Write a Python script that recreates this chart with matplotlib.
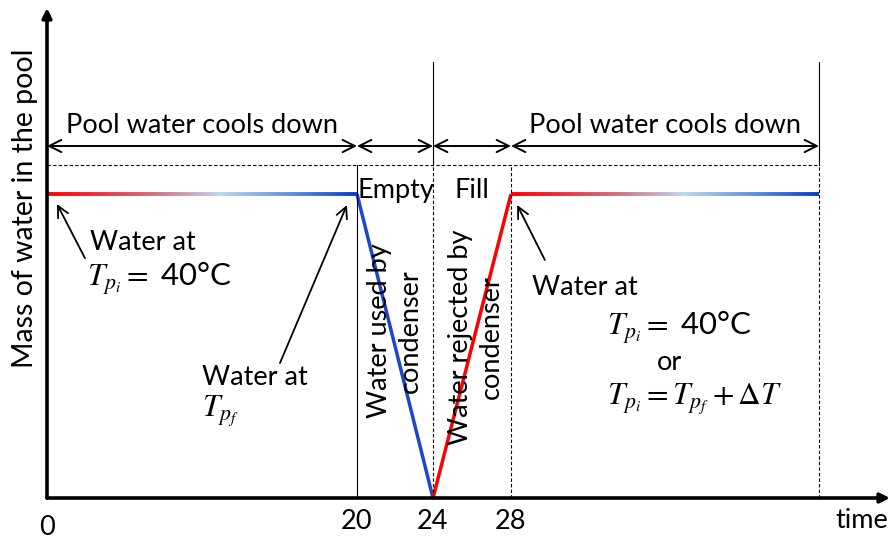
import numpy as np
import matplotlib.pyplot as plt
from matplotlib.collections import LineCollection
from matplotlib.colors import LinearSegmentedColormap
from matplotlib.transforms import ScaledTranslation

plt.rcParams["font.family"] = ["Lato", "DejaVu Sans"]
plt.rcParams["mathtext.fontset"] = "stix"

# schematic time axis (not to scale): time value -> position along axis
axis_times = [0, 20, 24, 28, 48, 54]
axis_pos = [0, 310, 386, 464, 772, 843]

# pool water mass profile
time_pts = [0, 20, 24, 28, 48]
mass_pts = [1.0, 1.0, 0.0, 1.0, 1.0]
tick_times = [0, 20, 24, 28]
tick_labels = ["0", "20", "24", "28"]

# phase boundaries
phase_edges = [0, 20, 24, 28, 48]
phase_names = ["Pool water cools down", "", "", "Pool water cools down"]

FS = 19.5
MFS = 22.5
BLUE = "#1f45c8"
RED = "#ff0000"
cool_cmap = LinearSegmentedColormap.from_list(
    "cool", [(0, "#ff0000"), (0.12, "#f2202e"), (0.35, "#d27284"),
             (0.56, "#bcd6ee"), (0.8, "#5a8ed8"), (1, "#0a3ccc")])


def fwd(t):
    return np.interp(t, axis_times, axis_pos)


def inv(p):
    return np.interp(p, axis_pos, axis_times)


fig = plt.figure(figsize=(8.91, 5.4), dpi=100)
ax = fig.add_axes([47 / 891, 42 / 540, 843 / 891, 490 / 540])
ax.set_xscale("function", functions=(fwd, inv))
ax.set_xlim(0, 54)
ax.set_ylim(0, 1.612)
for s in ax.spines.values():
    s.set_visible(False)

# axes with arrow heads
ax.annotate("", xy=(0, 1), xytext=(0, 0), xycoords="axes fraction",
            arrowprops=dict(arrowstyle="-|>", lw=2.6, color="k",
                            mutation_scale=14, shrinkA=0, shrinkB=0))
ax.annotate("", xy=(1, 0), xytext=(0, 0), xycoords="axes fraction",
            arrowprops=dict(arrowstyle="-|>", lw=2.6, color="k",
                            mutation_scale=14, shrinkA=0, shrinkB=0))

ax.set_xticks(tick_times)
ax.set_xticklabels(tick_labels, fontsize=FS)
ax.set_yticks([])
ax.tick_params(axis="x", length=0, pad=8)
for lbl in ax.get_xticklabels():
    if lbl.get_text() == "0":
        lbl.set_transform(lbl.get_transform() +
                          ScaledTranslation(0, -0.06, fig.dpi_scale_trans))
ax.text(51.6, -0.075, "time", fontsize=FS, ha="center", va="center")
ax.set_ylabel("Mass of water in the pool", fontsize=20.5)
ax.yaxis.set_label_coords(-0.011, 0.592)

# gradient (cooling) plateaus
for i in [0, 3]:
    t0, t1 = time_pts[i], time_pts[i + 1]
    ts = np.linspace(t0, t1, 200)
    ms = np.interp(ts, [t0, t1], [mass_pts[i], mass_pts[i + 1]])
    pts = np.column_stack([ts, ms]).reshape(-1, 1, 2)
    segs = np.concatenate([pts[:-1], pts[1:]], axis=1)
    lc = LineCollection(segs, cmap=cool_cmap, linewidth=2.8,
                        capstyle="butt")
    lc.set_array(np.linspace(0, 1, len(segs)))
    ax.add_collection(lc)

# empty and fill lines
ax.plot(time_pts[1:3], mass_pts[1:3], color=BLUE, lw=2.5,
        solid_capstyle="butt")
ax.plot(time_pts[2:4], mass_pts[2:4], color=RED, lw=2.5,
        solid_capstyle="butt")

# guide lines
y_dash = 1.095
y_arrow = 1.158
y_top = 1.434
ax.plot([0, 48], [y_dash, y_dash], color="k", lw=0.8, ls=(0, (3, 2)))
ax.plot([20, 20], [0, y_dash], color="k", lw=0.8)
for t in [24, 28, 48]:
    ax.plot([t, t], [0, y_dash], color="k", lw=0.8, ls=(0, (3, 2)))
for t in [24, 48]:
    ax.plot([t, t], [y_dash, y_top], color="k", lw=0.8)

# phase double arrows
for a, b, name in zip(phase_edges[:-1], phase_edges[1:], phase_names):
    ax.annotate("", xy=(b, y_arrow), xytext=(a, y_arrow),
                arrowprops=dict(arrowstyle="<->", lw=1.4, color="k",
                                mutation_scale=22, shrinkA=0, shrinkB=0))
    if name:
        ax.text(inv((fwd(a) + fwd(b)) / 2), 1.225, name,
                fontsize=FS, ha="center", va="center")

ax.text(22.05, 1.013, "Empty", fontsize=FS, ha="center", va="center")
ax.text(26.0, 1.013, "Fill", fontsize=FS, ha="center", va="center")
ax.text(22.0, 0.55, "Water used by\ncondenser", fontsize=FS, rotation=90,
        ha="center", va="center", linespacing=1.3, multialignment="center")
ax.text(26.2, 0.53, "Water rejected by\ncondenser", fontsize=FS,
        rotation=90, ha="center", va="center", linespacing=1.3,
        multialignment="center")

# annotations
arrow_kw = dict(arrowstyle="->", lw=1.3, color="k", mutation_scale=20,
                shrinkA=0, shrinkB=0)
ax.annotate("", xy=(0.645, 0.967), xytext=(2.45, 0.789), arrowprops=arrow_kw)
ax.text(2.77, 0.839, "Water at", fontsize=FS, ha="left", va="center")
ax.text(2.6, 0.72, r"$T_{p_i} = $ 40°C", fontsize=MFS, ha="left",
        va="center")

ax.annotate("", xy=(19.35, 0.964), xytext=(15.03, 0.444), arrowprops=arrow_kw)
ax.text(10.0, 0.398, "Water at", fontsize=FS, ha="left", va="center")
ax.text(10.0, 0.285, r"$T_{p_f}$", fontsize=MFS, ha="left", va="center")

ax.annotate("", xy=(28.4, 0.964), xytext=(30.2, 0.783), arrowprops=arrow_kw)
ax.text(29.36, 0.694, "Water at", fontsize=FS, ha="left", va="center")
ax.text(34.23, 0.56, r"$T_{p_i} = $ 40°C", fontsize=MFS, ha="left",
        va="center")
ax.text(38.3, 0.447, "or", fontsize=FS, ha="center", va="center")
ax.text(34.23, 0.325, r"$T_{p_i} = T_{p_f} + \Delta T$", fontsize=MFS,
        ha="left", va="center")

fig.savefig("out.png", dpi=100)
